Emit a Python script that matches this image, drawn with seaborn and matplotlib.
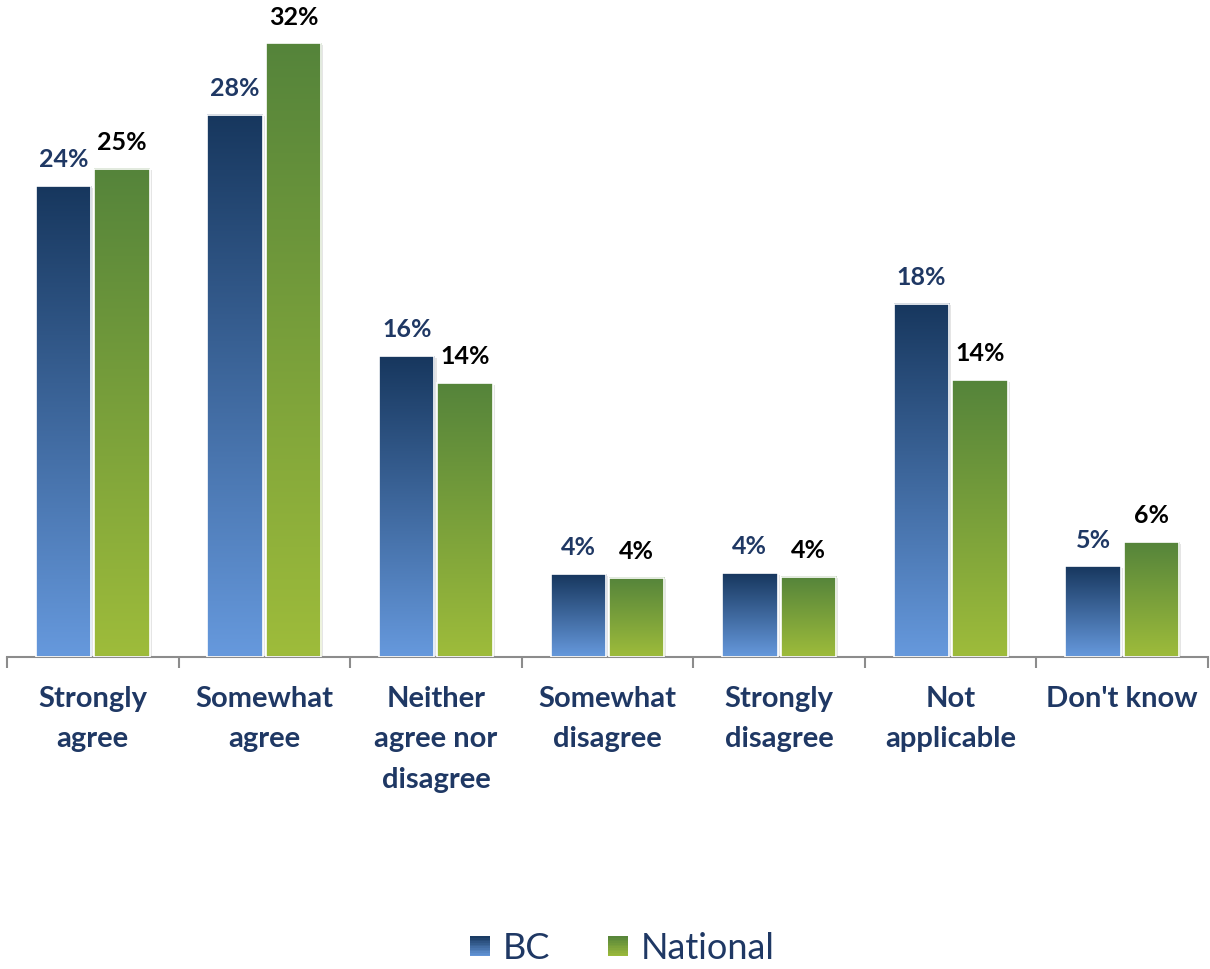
import numpy as np
import pandas as pd
import matplotlib
matplotlib.use("Agg")
import matplotlib.pyplot as plt
import seaborn as sns
from matplotlib.colors import LinearSegmentedColormap
from matplotlib.patches import Rectangle
from matplotlib.legend_handler import HandlerBase

categories = ["Strongly\nagree", "Somewhat\nagree", "Neither\nagree nor\ndisagree",
              "Somewhat\ndisagree", "Strongly\ndisagree", "Not\napplicable", "Don't know"]
series = ["BC", "National"]
bc = [24.4, 28.1, 15.6, 4.3, 4.35, 18.3, 4.7]
national = [25.3, 31.8, 14.2, 4.1, 4.15, 14.35, 5.96]
bc_labels = ["24%", "28%", "16%", "4%", "4%", "18%", "5%"]
national_labels = ["25%", "32%", "14%", "4%", "4%", "14%", "6%"]

grad = {
    "BC": ("#17375E", "#6699DD"),
    "National": ("#55843A", "#9EBC3B"),
}
label_colors = {"BC": "#1F3864", "National": "#000000"}
navy = "#1F3864"

sns.set_theme(style="white")
plt.rcParams["font.family"] = ["Lato", "DejaVu Sans"]

fig = plt.figure(figsize=(12.1, 9.69), dpi=100)
ax = fig.add_axes([7 / 1210, 312 / 969, 1201 / 1210, 656 / 969])

df = pd.DataFrame({
    "category": categories * 2,
    "value": bc + national,
    "series": ["BC"] * len(categories) + ["National"] * len(categories),
})
sns.barplot(data=df, x="category", y="value", hue="series", hue_order=series,
            palette={"BC": "#3A5F94", "National": "#76A044"},
            width=0.68, gap=0.05, ax=ax, legend=False, errorbar=None)

ylim = (0, 34)
xlim = (-0.5, len(categories) - 0.5)

patches = list(ax.patches)
n = len(categories)
for i, p in enumerate(patches):
    s = series[i // n]
    x0 = p.get_x()
    w = p.get_width()
    h = p.get_height()
    cmap = LinearSegmentedColormap.from_list(s, [grad[s][1], grad[s][0]])
    g = np.linspace(0, 1, 256).reshape(-1, 1)
    # shadow
    ax.add_patch(Rectangle((x0 + 0.012, 0), w, h - 0.08, facecolor="#000000",
                           alpha=0.10, edgecolor="none", zorder=1))
    ax.imshow(g, extent=[x0, x0 + w, 0, h], origin="lower", cmap=cmap,
              aspect="auto", zorder=2, interpolation="bilinear")
    p.set_facecolor("none")
    p.set_edgecolor("white")
    p.set_linewidth(1.2)
    p.set_zorder(3)
    lab = (bc_labels if s == "BC" else national_labels)[i % n]
    ax.annotate(lab, (x0 + w / 2, h), xytext=(0, 13.5), textcoords="offset points",
                ha="center", va="baseline", fontsize=18, fontweight="bold",
                color=label_colors[s], annotation_clip=False)

ax.set_xlim(*xlim)
ax.set_ylim(*ylim)
ax.set_xlabel("")
ax.set_ylabel("")
ax.set_yticks([])
ax.set_xticks(range(n))
ax.set_xticklabels(categories, fontsize=21, fontweight="bold", color=navy,
                   linespacing=1.68)
ax.tick_params(axis="x", which="major", length=0, pad=21)
ax.set_xticks(np.arange(-0.5, n, 1), minor=True)
ax.tick_params(axis="x", which="minor", length=8, width=1.5, color="#8C8C8C",
               direction="out", bottom=True)
for sp in ["top", "right", "left"]:
    ax.spines[sp].set_visible(False)
ax.spines["bottom"].set_color("#8C8C8C")
ax.spines["bottom"].set_linewidth(1.5)
ax.grid(False)


class GradHandler(HandlerBase):
    def __init__(self, c_top, c_bot):
        super().__init__()
        self.cmap = LinearSegmentedColormap.from_list("h", [c_bot, c_top])

    def create_artists(self, legend, orig_handle, xdescent, ydescent, width,
                       height, fontsize, trans):
        size = min(width, height) * 1.0
        x = -xdescent + (width - size) / 2
        y = -ydescent + (height - size) / 2
        arts = []
        k = 12
        for j in range(k):
            c = self.cmap((j + 0.5) / k)
            r = Rectangle((x, y + size * j / k), size, size / k + 0.3,
                          facecolor=c, edgecolor="none", transform=trans)
            arts.append(r)
        return arts


h1 = Rectangle((0, 0), 1, 1)
h2 = Rectangle((0, 1), 1, 1)
leg = fig.legend([h1, h2], series, loc="center", bbox_to_anchor=(0.514, 0.021),
                 ncol=2, frameon=False, fontsize=26, handlelength=0.56,
                 handleheight=0.56, handletextpad=0.35, columnspacing=1.6,
                 handler_map={h1: GradHandler(*grad["BC"]),
                              h2: GradHandler(*grad["National"])})
for t in leg.get_texts():
    t.set_color(navy)

fig.savefig("out.png", dpi=100)
